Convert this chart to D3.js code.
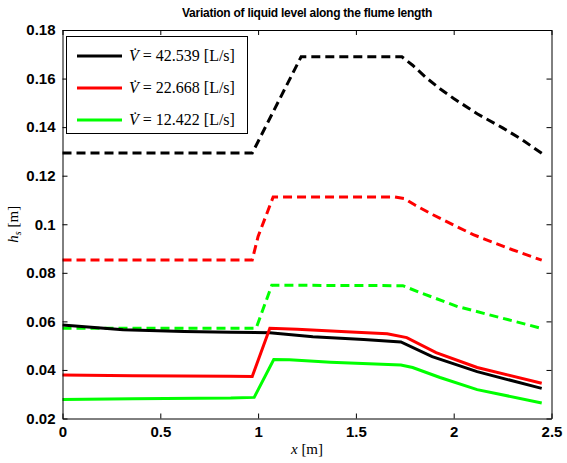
<!DOCTYPE html>
<html>
<head>
<meta charset="utf-8">
<script src="https://cdn.jsdelivr.net/npm/d3@7"></script>
<style>
body { margin: 0; background: #fff; }
.tick text { font-family: Arial, "Liberation Sans", sans-serif; font-weight: bold; font-size: 15px; }
</style>
</head>
<body>
<div id="chart"></div>
<script>
// tick values
var xTicks = [0, 0.5, 1, 1.5, 2, 2.5];
var yTicks = [0.02, 0.04, 0.06, 0.08, 0.1, 0.12, 0.14, 0.16, 0.18];
var yTickLabels = ["0.02", "0.04", "0.06", "0.08", "0.1", "0.12", "0.14", "0.16", "0.18"];

var legendLabels = ["42.539", "22.668", "12.422"];
var colors = ["#000000", "#ff0000", "#00ff00"];

// solid lines (x [m], h [m])
var black_x = [0, 0.31, 0.62, 0.86, 1.06, 1.28, 1.54, 1.73, 1.89, 2.12, 2.43, 2.45];
var black_h = [0.0585, 0.0566, 0.0558, 0.0555, 0.0553, 0.0537, 0.0525, 0.0515, 0.0455, 0.0393, 0.0328, 0.0324];
var red_x = [0, 0.36, 0.86, 0.97, 1.06, 1.2, 1.45, 1.66, 1.76, 1.91, 2.12, 2.45];
var red_h = [0.0379, 0.0376, 0.0374, 0.0373, 0.0572, 0.0568, 0.0557, 0.0549, 0.0533, 0.0471, 0.041, 0.0345];
var green_x = [0, 0.36, 0.86, 0.98, 1.08, 1.16, 1.37, 1.73, 1.79, 1.93, 2.12, 2.45];
var green_h = [0.0278, 0.0281, 0.0284, 0.0287, 0.0443, 0.0442, 0.0432, 0.0420, 0.0410, 0.0369, 0.0319, 0.0264];

// dashed lines
var blackD_x = [0, 0.97, 1.22, 1.735, 1.79, 1.86, 1.93, 2.0, 2.12, 2.25, 2.35, 2.45];
var blackD_h = [0.1293, 0.1293, 0.1690, 0.1690, 0.1655, 0.1603, 0.1558, 0.1518, 0.1455, 0.1397, 0.1348, 0.1292];
var redD_x = [0, 0.97, 1.0, 1.077, 1.70, 1.75, 1.80, 1.894, 2.10, 2.30, 2.45];
var redD_h = [0.0853, 0.0853, 0.0950, 0.1112, 0.1112, 0.1105, 0.108, 0.1039, 0.0957, 0.0895, 0.0852];
var greenD_x = [0, 0.99, 1.07, 1.74, 1.83, 2.02, 2.24, 2.45];
var greenD_h = [0.0572, 0.0572, 0.0749, 0.0747, 0.0718, 0.0661, 0.0615, 0.0571];

var width = 567, height = 463;
var pLeft = 62.5, pRight = 551.5, pTop = 30, pBottom = 418.5;

var svg = d3.select("#chart").append("svg")
	.attr("width", width)
	.attr("height", height);

var xScale = d3.scaleLinear().domain([0, 2.5]).range([pLeft, pRight]);
var yScale = d3.scaleLinear().domain([0.02, 0.18]).range([pBottom, pTop]);

var line = d3.line()
	.x(function(d) { return xScale(d[0]); })
	.y(function(d) { return yScale(d[1]); });

function pairs(xs, hs) {
	return xs.map(function(x, i) { return [x, hs[i]]; });
}

var series = [
	{ d: pairs(blackD_x, blackD_h), c: colors[0], dash: true },
	{ d: pairs(redD_x, redD_h), c: colors[1], dash: true },
	{ d: pairs(greenD_x, greenD_h), c: colors[2], dash: true },
	{ d: pairs(black_x, black_h), c: colors[0], dash: false },
	{ d: pairs(red_x, red_h), c: colors[1], dash: false },
	{ d: pairs(green_x, green_h), c: colors[2], dash: false }
];

svg.append("g").selectAll("path")
	.data(series)
	.enter()
	.append("path")
	.attr("d", function(s) { return line(s.d); })
	.attr("fill", "none")
	.attr("stroke", function(s) { return s.c; })
	.attr("stroke-width", 3)
	.attr("stroke-dasharray", function(s) { return s.dash ? "9,5" : null; });

// axes, MATLAB style ticks inside on all sides
var axisB = d3.axisBottom(xScale).tickValues(xTicks).tickSizeInner(-5).tickSizeOuter(0).tickPadding(8)
	.tickFormat(d3.format("~g"));
var axisT = d3.axisTop(xScale).tickValues(xTicks).tickSizeInner(-5).tickSizeOuter(0).tickFormat("");
var axisL = d3.axisLeft(yScale).tickValues(yTicks).tickSizeInner(-5).tickSizeOuter(0).tickPadding(7)
	.tickFormat(function(d, i) { return yTickLabels[i]; });
var axisR = d3.axisRight(yScale).tickValues(yTicks).tickSizeInner(-5).tickSizeOuter(0).tickFormat("");

svg.append("g").attr("transform", "translate(0," + pBottom + ")").call(axisB);
svg.append("g").attr("transform", "translate(0," + pTop + ")").call(axisT);
svg.append("g").attr("transform", "translate(" + pLeft + ",0)").call(axisL);
svg.append("g").attr("transform", "translate(" + pRight + ",0)").call(axisR);

svg.selectAll(".domain").attr("stroke", "#000");
svg.selectAll(".tick line").attr("stroke", "#000");
svg.selectAll(".tick text").attr("fill", "#000");

// title
svg.append("text")
	.attr("x", (pLeft + pRight) / 2)
	.attr("y", 17)
	.attr("text-anchor", "middle")
	.style("font-family", "Arial, 'Liberation Sans', sans-serif")
	.style("font-weight", "bold")
	.style("font-size", "12px")
	.style("letter-spacing", "-0.25px")
	.text("Variation of liquid level along the flume length");

// axis labels
var xl = svg.append("text")
	.attr("x", (pLeft + pRight) / 2)
	.attr("y", 454)
	.attr("text-anchor", "middle")
	.style("font-family", "'Liberation Serif', serif")
	.style("font-size", "15px");
xl.append("tspan").style("font-style", "italic").text("x");
xl.append("tspan").text(" [m]");

var yl = svg.append("text")
	.attr("transform", "translate(18," + ((pTop + pBottom) / 2) + ") rotate(-90)")
	.attr("text-anchor", "middle")
	.style("font-family", "'Liberation Serif', serif")
	.style("font-size", "15px");
yl.append("tspan").style("font-style", "italic").text("h");
yl.append("tspan").style("font-style", "italic").style("font-size", "10px").attr("dy", 3).text("s");
yl.append("tspan").attr("dy", -3).text(" [m]");

// legend
var lg = svg.append("g");
lg.append("rect")
	.attr("x", 66.5).attr("y", 36.5)
	.attr("width", 181).attr("height", 97)
	.attr("fill", "#fff")
	.attr("stroke", "#000")
	.attr("stroke-width", 1);

var entries = lg.selectAll(".entry")
	.data(legendLabels)
	.enter()
	.append("g")
	.attr("transform", function(d, i) { return "translate(0," + (56 + i * 32) + ")"; });

entries.append("line")
	.attr("x1", 77).attr("x2", 122)
	.attr("stroke", function(d, i) { return colors[i]; })
	.attr("stroke-width", 3);

var lt = entries.append("text")
	.attr("x", 129)
	.attr("y", 5)
	.style("font-family", "'Liberation Serif', serif")
	.style("font-size", "16px");
lt.append("tspan").style("font-style", "italic").text("V\u0307");
lt.append("tspan").text(function(d) { return " = " + d + " [L/s]"; });
</script>
</body>
</html>
